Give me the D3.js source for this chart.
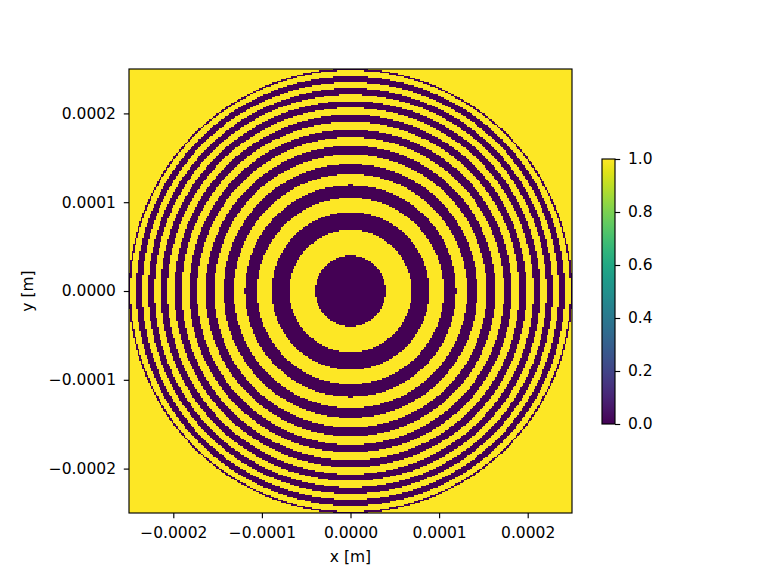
<!DOCTYPE html>
<html>
<head>
<meta charset="utf-8">
<script src="https://cdn.jsdelivr.net/npm/d3@7/dist/d3.min.js"></script>
<style>
  html, body { margin: 0; padding: 0; background: #ffffff; }
  svg { display: block; }
  text { font-family: "DejaVu Sans", sans-serif; }
</style>
</head>
<body>
<div id="chart"></div>
<script>
// ---- data ----
// radii (micrometres) where the binary ring pattern switches between 0 and 1, from the centre outwards
const ringEdgesMicron = [39.7, 68.8, 88.8, 105.1, 119.2, 131.7, 143.2, 153.8, 163.7, 173.1,
                         182.0, 190.5, 198.6, 206.4, 214.0, 221.2, 228.2, 234.9, 241.6, 248.0];
const centreValue = 0;          // value inside the first edge
const outsideValue = 1;         // value outside the aperture
const apertureRadiusMicron = 250;
const gridSize = 300;           // cells per side of the image
const extent = [-0.00025, 0.00025];
const axisTicks = [-0.0002, -0.0001, 0, 0.0001, 0.0002];
const axisTickLabels = ["\u22120.0002", "\u22120.0001", "0.0000", "0.0001", "0.0002"];
const colorbarTicks = [0, 0.2, 0.4, 0.6, 0.8, 1.0];
const colorbarTickLabels = ["0.0", "0.2", "0.4", "0.6", "0.8", "1.0"];
const xLabel = "x [m]";
const yLabel = "y [m]";

// ---- layout ----
const W = 768, H = 576;
const plot = { left: 129, right: 572, top: 69, bottom: 513 };
const cbar = { left: 602, right: 615, top: 159, bottom: 424 };
const fontPx = 15.5, tickLen = 5.2, tickPad = 5.2, lw = 1.15;

const svg = d3.select("#chart").append("svg").attr("width", W).attr("height", H);

const x = d3.scaleLinear().domain(extent).range([plot.left, plot.right]);
const y = d3.scaleLinear().domain(extent).range([plot.bottom, plot.top]);
const color = d3.scaleSequential(d3.interpolateViridis).domain([0, 1]);

// ---- raster ----
const edges = ringEdgesMicron.map(d => d * 1e-6);
const aperture = apertureRadiusMicron * 1e-6;
const cell = (extent[1] - extent[0]) / gridSize;
const canvas = document.createElement("canvas");
canvas.width = gridSize; canvas.height = gridSize;
const ctx = canvas.getContext("2d");
const img = ctx.createImageData(gridSize, gridSize);
for (let j = 0; j < gridSize; j++) {
  const yy = extent[1] - (j + 0.5) * cell; // row 0 at top
  for (let i = 0; i < gridSize; i++) {
    const xx = extent[0] + (i + 0.5) * cell;
    const r = Math.hypot(xx, yy);
    let v;
    if (r > aperture) v = outsideValue;
    else {
      const k = d3.bisect(edges, r);
      v = (k % 2 === 0) ? centreValue : 1 - centreValue;
    }
    const c = d3.rgb(color(v));
    const p = (j * gridSize + i) * 4;
    img.data[p] = c.r; img.data[p + 1] = c.g; img.data[p + 2] = c.b; img.data[p + 3] = 255;
  }
}
ctx.putImageData(img, 0, 0);

svg.append("image")
  .attr("href", canvas.toDataURL())
  .attr("x", x(extent[0])).attr("y", y(extent[1]))
  .attr("width", x(extent[1]) - x(extent[0]))
  .attr("height", y(extent[0]) - y(extent[1]))
  .attr("preserveAspectRatio", "none")
  .style("image-rendering", "pixelated");

// frame
svg.append("rect")
  .attr("x", plot.left).attr("y", plot.top)
  .attr("width", plot.right - plot.left).attr("height", plot.bottom - plot.top)
  .attr("fill", "none").attr("stroke", "#000").attr("stroke-width", lw);

function styleAxis(g) {
  g.select(".domain").remove();
  g.selectAll(".tick line").attr("stroke", "#000").attr("stroke-width", lw);
  g.selectAll(".tick text").attr("font-size", fontPx).attr("fill", "#000")
    .attr("font-family", "DejaVu Sans, sans-serif");
}

// x axis
const xAxis = d3.axisBottom(x).tickValues(axisTicks)
  .tickFormat((d, i) => axisTickLabels[i]).tickSize(tickLen).tickPadding(tickPad);
const gx = svg.append("g").attr("transform", `translate(0,${plot.bottom})`).call(xAxis);
styleAxis(gx);
gx.selectAll(".tick text").attr("y", 537.5 - plot.bottom).attr("dy", null);

// y axis
const yAxis = d3.axisLeft(y).tickValues(axisTicks)
  .tickFormat((d, i) => axisTickLabels[i]).tickSize(tickLen).tickPadding(tickPad);
const gy = svg.append("g").attr("transform", `translate(${plot.left},0)`).call(yAxis);
styleAxis(gy);
gy.selectAll(".tick text").attr("x", 116 - plot.left);

// axis labels
svg.append("text").attr("x", (plot.left + plot.right) / 2).attr("y", 562)
  .attr("text-anchor", "middle").attr("font-size", fontPx).text(xLabel);
svg.append("text")
  .attr("transform", `translate(33,${(plot.top + plot.bottom) / 2}) rotate(-90)`)
  .attr("text-anchor", "middle").attr("font-size", fontPx).text(yLabel);

// ---- colorbar ----
const cy = d3.scaleLinear().domain([0, 1]).range([cbar.bottom, cbar.top]);
const grad = svg.append("defs").append("linearGradient")
  .attr("id", "viridis").attr("x1", 0).attr("y1", 1).attr("x2", 0).attr("y2", 0);
d3.range(0, 1.0001, 0.05).forEach(t => {
  grad.append("stop").attr("offset", t).attr("stop-color", color(t));
});
svg.append("rect")
  .attr("x", cbar.left).attr("y", cy(1))
  .attr("width", cbar.right - cbar.left).attr("height", cy(0) - cy(1))
  .attr("fill", "url(#viridis)")
  .attr("stroke", "#000").attr("stroke-width", lw);
const cAxis = d3.axisRight(cy).tickValues(colorbarTicks)
  .tickFormat((d, i) => colorbarTickLabels[i]).tickSize(tickLen).tickPadding(tickPad);
const gc = svg.append("g").attr("transform", `translate(${cbar.right},0)`).call(cAxis);
styleAxis(gc);
gc.selectAll(".tick text").attr("x", 628 - cbar.right);
</script>
</body>
</html>
